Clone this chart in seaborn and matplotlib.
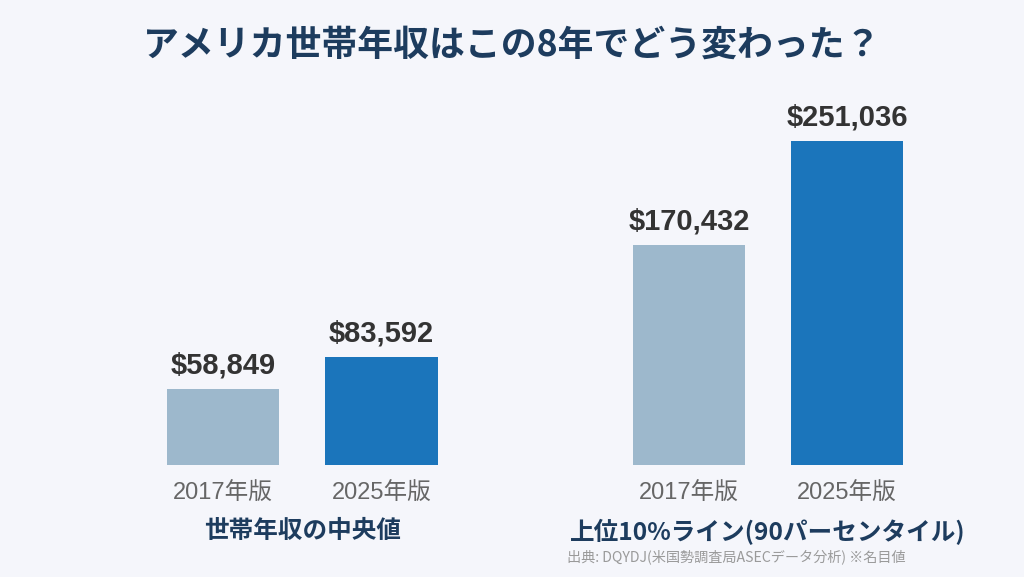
import matplotlib
matplotlib.use("Agg")
import matplotlib.pyplot as plt
import seaborn as sns
import pandas as pd

# ---- data ----
title = "アメリカ世帯年収はこの8年でどう変わった？"
editions = ["2017年版", "2025年版"]
group_labels = ["世帯年収の中央値", "上位10%ライン(90パーセンタイル)"]
median_values = [58849, 83592]
top10_values = [170432, 251036]
source_text = "出典: DQYDJ(米国勢調査局ASECデータ分析) ※名目値"

bar_colors = ["#9db8cc", "#1b75bb"]
bg = "#f5f6fb"
navy = "#1d3c5e"

sns.set_theme(style="white")
plt.rcParams["font.family"] = ["Noto Sans CJK JP", "DejaVu Sans"]
latin_cjk = ["Liberation Sans", "Noto Sans CJK JP", "DejaVu Sans"]

W, H = 1024, 577
fig = plt.figure(figsize=(W / 100, H / 100), dpi=100, facecolor=bg)

ymax = 282800
axes_specs = [(143.75, 317), (610, 316)]
series = [median_values, top10_values]

for (left_px, width_px), values, glabel in zip(axes_specs, series, group_labels):
    ax = fig.add_axes([left_px / W, (H - 465) / H, width_px / W, 365 / H])
    ax.set_facecolor(bg)
    df = pd.DataFrame({"edition": editions, "value": values})
    sns.barplot(data=df, x="edition", y="value", hue="edition",
                palette=bar_colors, width=0.707, legend=False, ax=ax,
                edgecolor="none", saturation=1)
    ax.set_xlim(-0.5, 1.5)
    ax.set_ylim(0, ymax)
    for c in ax.containers:
        ax.bar_label(c, labels=[f"${v:,.0f}" for v in c.datavalues],
                     padding=7, fontsize=21, fontweight="bold", color="#333333",
                     family=latin_cjk)
    ax.set_yticks([])
    ax.set_ylabel("")
    ax.tick_params(axis="x", length=0, pad=13, labelsize=17, labelcolor="#666666")
    for lbl in ax.get_xticklabels():
        lbl.set_fontfamily(latin_cjk)
    ax.set_xlabel(glabel, fontsize=17.7, fontweight="bold", color=navy, labelpad=10)
    for s in ax.spines.values():
        s.set_visible(False)

fig.text(0.5, 1 - 45 / H, title, ha="center", va="center",
         fontsize=25.8, fontweight="bold", color=navy)
fig.text(567 / W, 1 - 557 / H, source_text, ha="left", va="center",
         fontsize=10.2, color="#9a9a9a")

fig.savefig("out.png", dpi=100, facecolor=bg)
